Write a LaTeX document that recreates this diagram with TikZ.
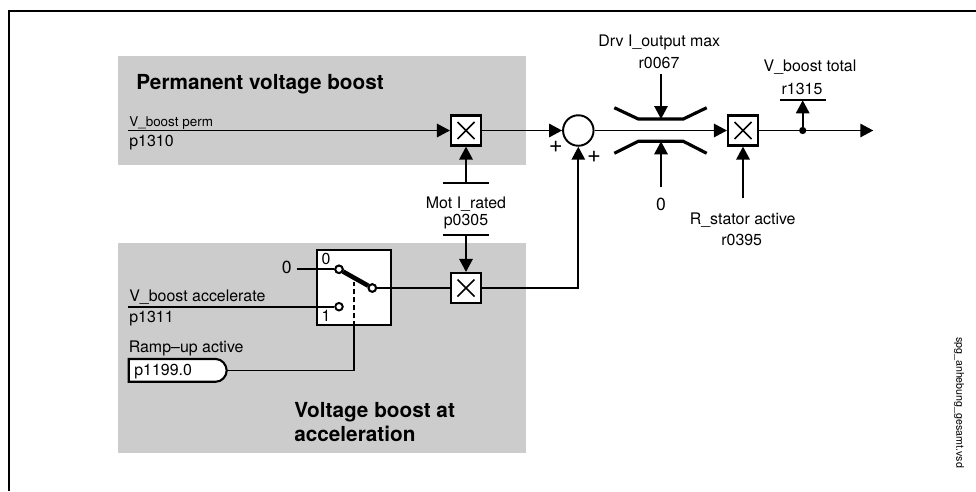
\documentclass[tikz,border=0pt]{standalone}
\usepackage{fontspec}
\setmainfont{TeX Gyre Heros}
\usepackage{xcolor}
\usetikzlibrary{arrows.meta}
\definecolor{panelgray}{HTML}{CCCCCC}
\tikzset{
  sigline/.style={line width=1.1pt},
  sigarrow/.style={line width=1.1pt, -{Triangle[length=7.4pt,width=7.6pt]}},
  lbl/.style={inner sep=0pt, font=\fontsize{9.07}{11}\selectfont},
  lblsmall/.style={inner sep=0pt, font=\fontsize{7.65}{9}\selectfont},
  lblzero/.style={inner sep=0pt, font=\fontsize{10}{12}\selectfont},
  lblplus/.style={inner sep=0pt, font=\fontsize{13.5}{15}\selectfont},
  title/.style={inner sep=0pt, align=left, font=\fontsize{11.8}{13.8}\selectfont\bfseries},
  multbox/.style={draw, fill=white, line width=1.2pt, minimum size=0.6cm, inner sep=0pt},
  contact/.style={circle, draw, fill=white, line width=1.1pt, minimum size=0.15cm, inner sep=0pt},
}

\begin{document}
\begin{tikzpicture}[x=0.02cm,y=-0.02cm]
    \useasboundingbox (0,0) rectangle (976,491);
    \draw [line width=1.2pt] (9,491) -- (9,11) -- (976,11);
    % panels
    \fill [panelgray] (118,56) rectangle (526,164.7);
    \fill [panelgray] (118,243) rectangle (526,452.7);
    \node [title, anchor=base west] (permtitle) at (136,89) {Permanent voltage boost};
    \node [title, anchor=north west] (acceltitle) at (294,402) {Voltage boost at\\acceleration};
    % blocks
    \node [multbox] (multperm) at (466,130.5) {};
    \node [multbox] (multaccel) at (466,288) {};
    \node [multbox] (multstator) at (743,130.5) {};
    \foreach \m in {multperm,multaccel,multstator}
        \draw [line width=0.9pt] (\m) ++(-8.5,-8.5) -- ++(17,17) ++(-17,0) -- ++(17,-17);
    \node [circle, draw, line width=1.1pt, minimum size=0.61cm, inner sep=0pt] (sum) at (578.3,130.5) {};
    \node [draw, fill=white, line width=1.2pt, minimum width=1.486cm, minimum height=1.5cm, inner sep=0pt] (switch) at (353.85,287.8) {};
    % free ends
    \coordinate (permstart) at (128,130.5);
    \coordinate (accelstart) at (128,306.7);
    \coordinate (zerostart) at (296.7,269.3);
    \coordinate (motbarup) at (466,183.3);
    \coordinate (motbarlow) at (466,235);
    \coordinate (drvstart) at (661,74.3);
    \coordinate (zerolim) at (661,187.3);
    \coordinate (limup) at (661,119);
    \coordinate (limlow) at (661,141.3);
    \coordinate (statorstart) at (743,198.3);
    \coordinate (totalbar) at (802.7,100.3);
    \coordinate (outend) at (873.3,130.5);
    \coordinate (ramptip) at (226.7,370.5);
    \coordinate (dashtop) at (353.85,282);
    % switch
    \node [contact] (contzero) at (339,269.3) {};
    \node [contact] (contone) at (339,306.7) {};
    \node [contact] (contout) at (372.3,288) {};
    \draw [line width=2.6pt] (contzero) -- (contout);
    \node [contact] at (contzero) {};
    \node [contact] at (contout) {};
    \draw [sigline] (zerostart) -- (contzero);
    \draw [sigline] (accelstart) -- (contone);
    \draw [sigline] (contout) -- (multaccel);
    \draw [sigline, dashed, dash pattern=on 3pt off 1.6pt] (switch.south) -- (dashtop);
    \node [lbl, anchor=base] (switchzero) at (326,264) {0};
    \node [lbl, anchor=base] (switchone) at (326,321) {1};
    \node [lblzero, anchor=base east] (zerotext) at (292,273) {0};
    % ramp-up signal
    \draw [line width=1.2pt, fill=white] (128.7,359) -- (216,359) .. controls (222,359) and (226.7,365) .. (ramptip) .. controls (226.7,376) and (222,381.7) .. (216,381.7) -- (128.7,381.7) -- cycle;
    \draw [sigline] (ramptip) -| (switch.south);
    % signal paths
    \draw [sigarrow] (permstart) -- (multperm);
    \draw [sigarrow] (motbarup) -- (multperm);
    \draw [sigarrow] (motbarlow) -- (multaccel);
    \draw [sigarrow] (multperm) -- (sum);
    \draw [sigarrow] (multaccel) -| (sum);
    \draw [sigarrow] (sum) -- (multstator);
    \draw [sigarrow] (statorstart) -- (multstator);
    \draw [sigarrow] (multstator) -- (outend);
    \draw [sigarrow] (drvstart) -- (limup);
    \draw [sigarrow] (zerolim) -- (limlow);
    \node [circle, fill, minimum size=0.145cm, inner sep=0pt] (tap) at (802.7,130.5) {};
    \draw [sigarrow] (tap) -- (totalbar);
    \foreach \b in {motbarup,motbarlow,totalbar}
        \draw [line width=1.2pt] (\b) ++(-23,0) -- ++(46,0);
    % limiter
    \draw [line width=1.8pt] (614.3,107.7) -- (638.3,119) -- (683.3,119) -- (706.7,107.7);
    \draw [line width=1.8pt] (614.3,153.3) -- (638.3,141.3) -- (683.3,141.3) -- (706.7,153.3);
    % labels
    \node [lblsmall, anchor=base west] (permname) at (129,126) {V\_boost perm};
    \node [lbl, anchor=base west] (permpar) at (129,146.7) {p1310};
    \node [lbl, anchor=base] (motname) at (466,208) {Mot I\_rated};
    \node [lbl, anchor=base] (motpar) at (466,225) {p0305};
    \node [lbl, anchor=base west] (accelname) at (129,301.7) {V\_boost accelerate};
    \node [lbl, anchor=base west] (accelpar) at (129,322) {p1311};
    \node [lbl, anchor=base west] (rampname) at (128.5,352.7) {Ramp--up active};
    \node [lbl, anchor=base west] (ramppar) at (134,375) {p1199.0};
    \node [lbl, anchor=base] (drvname) at (659.3,46.7) {Drv I\_output max};
    \node [lbl, anchor=base] (drvpar) at (659,68.3) {r0067};
    \node [lblzero, anchor=base] (limzero) at (661,210.7) {0};
    \node [lbl, anchor=base] (statorname) at (742.7,224) {R\_stator active};
    \node [lbl, anchor=base] (statorpar) at (741.7,245) {r0395};
    \node [lbl, anchor=base] (totalname) at (810,71) {V\_boost total};
    \node [lbl, anchor=base] (totalpar) at (802,94) {r1315};
    \node [lblplus] (plusleft) at (555.7,146.7) {+};
    \node [lblplus] (plusright) at (594,157.3) {+};
    \node [inner sep=0pt, rotate=-90, font=\fontsize{6.07}{7}\selectfont] (filename) at (959,402.5) {spg\_anhebung\_gesamt.vsd};
\end{tikzpicture}
\end{document}
